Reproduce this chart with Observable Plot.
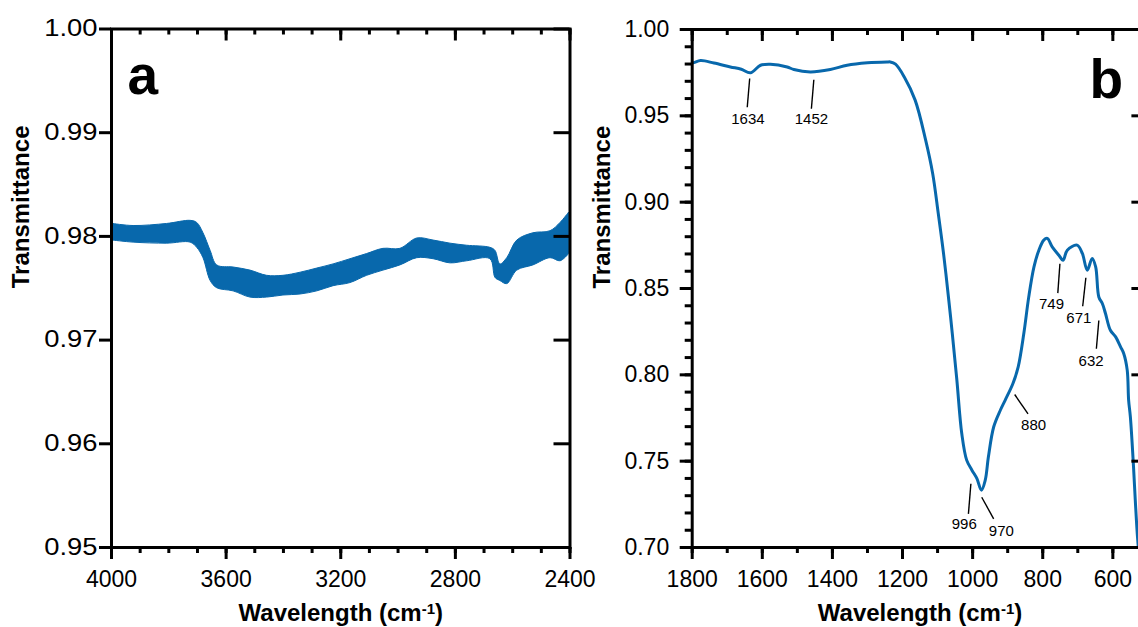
<!DOCTYPE html>
<html><head><meta charset="utf-8">
<script src="https://cdn.jsdelivr.net/npm/d3@7"></script>
<script src="https://cdn.jsdelivr.net/npm/@observablehq/plot@0.6"></script>
<style>
html,body{margin:0;padding:0;background:#fff;overflow:hidden}
#wrap{position:relative;width:1138px;height:627px;overflow:hidden;background:#fff}
#pa{position:absolute;left:0;top:0;width:580px;height:627px;z-index:2}
#pb{position:absolute;left:580px;top:0;width:558px;height:627px;overflow:hidden;z-index:1}
#wrap svg{overflow:visible;max-width:none !important;}
</style></head><body><div id="wrap"><div id="pa"></div><div id="pb"></div></div>
<script>
// ---------- Panel a data (noisy band: lower / upper envelope) ----------
const waveA = [3995, 3923, 3806, 3724, 3701, 3679, 3654, 3631, 3574, 3515, 3457, 3400, 3340, 3282, 3225, 3166, 3108, 3051, 2992, 2933, 2876, 2817, 2759, 2678, 2660, 2643, 2619, 2584, 2528, 2468, 2433, 2403];
const hiA = [0.9812, 0.9810, 0.9812, 0.9815, 0.9813, 0.9803, 0.9786, 0.9772, 0.9770, 0.9767, 0.9762, 0.9762, 0.9765, 0.9769, 0.9773, 0.9778, 0.9783, 0.9788, 0.9788, 0.9798, 0.9796, 0.9793, 0.9791, 0.9789, 0.9786, 0.9773, 0.9779, 0.9796, 0.9803, 0.9805, 0.9813, 0.9823];
const loA = [0.9796, 0.9794, 0.9793, 0.9794, 0.9789, 0.9779, 0.9757, 0.9750, 0.9747, 0.9741, 0.9741, 0.9743, 0.9744, 0.9747, 0.9752, 0.9755, 0.9762, 0.9767, 0.9772, 0.9779, 0.9778, 0.9774, 0.9776, 0.9778, 0.9760, 0.9757, 0.9754, 0.9767, 0.9772, 0.9779, 0.9776, 0.9783];

// ---------- Panel b data ----------
const waveB = [1800, 1795, 1776, 1738, 1691, 1660, 1634, 1605, 1577, 1529, 1510, 1463, 1406, 1358, 1300, 1244, 1235, 1220, 1195, 1164, 1134, 1114, 1098, 1083, 1068, 1058, 1045, 1031, 1017, 1002, 988, 975, 964, 955, 940, 921, 907, 885, 870, 854, 840, 825, 811, 797, 787, 773, 754, 742, 730, 702, 687, 673, 659, 649, 640, 630, 621, 607, 592, 578, 569, 559, 555, 550, 541, 536, 529, 520];
const transB = [0.9807, 0.9808, 0.9820, 0.9806, 0.9783, 0.9770, 0.9749, 0.9793, 0.9799, 0.9783, 0.9768, 0.9754, 0.9768, 0.9793, 0.9807, 0.9812, 0.9812, 0.9799, 0.9725, 0.9591, 0.9359, 0.9166, 0.8934, 0.8703, 0.8432, 0.8239, 0.7970, 0.7660, 0.7506, 0.7448, 0.7400, 0.7332, 0.7390, 0.7525, 0.7698, 0.7795, 0.7854, 0.7950, 0.8046, 0.8239, 0.8450, 0.8625, 0.8722, 0.8780, 0.8790, 0.8741, 0.8693, 0.8664, 0.8722, 0.8751, 0.8703, 0.8606, 0.8674, 0.8625, 0.8451, 0.8413, 0.8355, 0.8258, 0.8220, 0.8162, 0.8124, 0.8027, 0.7854, 0.7756, 0.7467, 0.7274, 0.7042, 0.6850];

// peak annotations (data units): label, leader start, leader end, label position
const peakLabels = ["1634", "1452", "996", "970", "880", "749", "671", "632"];
const leadTopW = [1636, 1453, 1005, 974, 880, 751, 677, 640];
const leadTopT = [0.9716, 0.9709, 0.7369, 0.7291, 0.7886, 0.8643, 0.8562, 0.8315];
const leadEndW = [1643, 1460, 1012, 940, 842, 757, 686, 647];
const leadEndT = [0.9550, 0.9541, 0.7195, 0.7166, 0.7774, 0.8473, 0.8397, 0.8151];
const labelW = [1641, 1460, 1024, 918, 826, 775, 697, 662];
const labelT = [0.9483, 0.9480, 0.7137, 0.7093, 0.7707, 0.8409, 0.8330, 0.8079];

// ---------- ticks ----------
const majorXA = [4000, 3600, 3200, 2800, 2400];
const minorXA = [4000, 3900, 3800, 3700, 3600, 3500, 3400, 3300, 3200, 3100, 3000, 2900, 2800, 2700, 2600, 2500, 2400];
const majorYA = [0.95, 0.96, 0.97, 0.98, 0.99, 1.00];
const majorXB = [1800, 1600, 1400, 1200, 1000, 800, 600];
const minorXB = [1800, 1700, 1600, 1500, 1400, 1300, 1200, 1100, 1000, 900, 800, 700, 600, 500];
const majorYB = [0.70, 0.75, 0.80, 0.85, 0.90, 0.95, 1.00];
const minorYB = [0.70,0.71,0.72,0.73,0.74,0.75,0.76,0.77,0.78,0.79,0.80,0.81,0.82,0.83,0.84,0.85,0.86,0.87,0.88,0.89,0.90,0.91,0.92,0.93,0.94,0.95,0.96,0.97,0.98,0.99,1.00];

const xTitle = "Wavelength (cm-1)";
const yTitle = "Transmittance";

const BLUE = "#0868ac";
const FONT = "'Liberation Sans', Arial, Helvetica, sans-serif";

const bandA = waveA.map((w, i) => ({w, lo: loA[i], hi: hiA[i]}));
const specB = waveB.map((w, i) => ({w, t: transB[i]}));
const peaks = peakLabels.map((label, i) => ({label, x1: leadTopW[i], y1: leadTopT[i], x2: leadEndW[i], y2: leadEndT[i], tx: labelW[i], ty: labelT[i]}));

const fmtInt = d => String(d);
const fmt2 = d3.format(".2f");

function frameMarks(o) {
  const plotW = o.width - o.marginLeft - o.marginRight;
  const plotH = o.height - o.marginTop - o.marginBottom;
  const marks = [
    Plot.frame({stroke: "black", strokeWidth: 3}),
    // bottom ticks (outward)
    Plot.axisX({ticks: o.minorX, anchor: "bottom", tickSize: 6, tickFormat: () => "", strokeWidth: 3, label: null}),
    Plot.axisX({ticks: o.majorX, anchor: "bottom", tickSize: 12, tickPadding: 11, tickFormat: fmtInt, strokeWidth: 3, label: null}),
    // top ticks (inward)
    Plot.ruleX(o.minorX, {x: d => d, insetBottom: plotH - 6, stroke: "black", strokeWidth: 3}),
    Plot.ruleX(o.majorX, {x: d => d, insetBottom: plotH - 12, stroke: "black", strokeWidth: 3})
  ];
  if (o.minorY) marks.push(Plot.axisY({ticks: o.minorY, anchor: "left", tickSize: 7, tickFormat: () => "", strokeWidth: 3, label: null}));
  marks.push(
    Plot.axisY({ticks: o.majorY, anchor: "left", tickSize: 12, tickPadding: o.yPad, tickFormat: fmt2, strokeWidth: 3, label: null}),
    // right ticks (inward)
    Plot.ruleY(o.majorY, {y: d => d, insetLeft: plotW - 16, stroke: "black", strokeWidth: 3}),
    // titles
    Plot.text([yTitle], {text: d => d, frameAnchor: "left", rotate: -90, dx: o.yTitleDx, fontSize: 24, fontWeight: "bold"}),
    Plot.text([xTitle], {text: d => d, frameAnchor: "bottom", dy: 73.5, lineAnchor: "bottom", fontSize: 24, fontWeight: "bold"}),
    Plot.text([o.letter], {text: d => d, frameAnchor: "top-left", dx: o.letterDx, dy: o.letterDy, lineAnchor: "bottom", textAnchor: "start", fontSize: 55, fontWeight: "bold"})
  );
  return marks;
}

const optA = {width: 580, height: 627, marginLeft: 111, marginRight: 10.5, marginTop: 28.5, marginBottom: 80,
  majorX: majorXA, minorX: minorXA, majorY: majorYA, minorY: null, yPad: 2, yTitleDx: -90, letter: "a", letterDx: 16, letterDy: 64.5};
const chartA = Plot.plot({
  width: optA.width, height: optA.height,
  marginLeft: optA.marginLeft, marginRight: optA.marginRight, marginTop: optA.marginTop, marginBottom: optA.marginBottom,
  x: {domain: [4000, 2400]}, y: {domain: [0.95, 1.00]},
  style: {fontFamily: FONT, fontSize: "23px", background: "transparent", color: "black", overflow: "visible", maxWidth: "none"},
  marks: [
    Plot.areaY(bandA, {x: "w", y1: "lo", y2: "hi", fill: BLUE, stroke: BLUE, strokeWidth: 1, curve: "catmull-rom"}),
    ...frameMarks(optA)
  ]
});

const optB = {width: 600, height: 627, marginLeft: 111.7, marginRight: 32.6, marginTop: 29, marginBottom: 80,
  majorX: majorXB, minorX: minorXB, majorY: majorYB, minorY: minorYB, yPad: 11, yTitleDx: -89.7, letter: "b", letterDx: 397.3, letterDy: 68};
const chartB = Plot.plot({
  width: optB.width, height: optB.height,
  marginLeft: optB.marginLeft, marginRight: optB.marginRight, marginTop: optB.marginTop, marginBottom: optB.marginBottom,
  x: {domain: [1800, 500]}, y: {domain: [0.70, 1.00]},
  style: {fontFamily: FONT, fontSize: "23px", background: "transparent", color: "black", overflow: "visible", maxWidth: "none"},
  marks: [
    Plot.line(specB, {x: "w", y: "t", stroke: BLUE, strokeWidth: 3, curve: "catmull-rom", clip: true}),
    Plot.link(peaks, {x1: "x1", y1: "y1", x2: "x2", y2: "y2", stroke: "black", strokeWidth: 1.4}),
    Plot.text(peaks, {x: "tx", y: "ty", text: "label", fontSize: 15, lineAnchor: "middle"}),
    ...frameMarks(optB)
  ]
});

function finish(svg) {
  const s = d3.select(svg);
  // drop the empty labels of the minor-tick axes
  s.selectAll("text").filter(function() { return this.textContent === ""; }).remove();
  s.selectAll("text").each(function() {
    const t = d3.select(this);
    if (t.selectAll("tspan").size() === 0 && t.text() === xTitle) {
      t.text(null);
      t.append("tspan").text("Wavelength (cm");
      t.append("tspan").attr("dy", -7).attr("font-size", "15px").text("-1");
      t.append("tspan").attr("dy", 7).text(")");
    }
  });
}
finish(chartA);
finish(chartB);
// panel a's y tick labels are drawn horizontally stretched in the reference
d3.select(chartA).selectAll('g[aria-label="y-axis tick label"] text').each(function() {
  const tr = this.getAttribute("transform") || "";
  this.setAttribute("transform", tr + " scale(1.19,1)");
});
document.getElementById("pa").appendChild(chartA);
document.getElementById("pb").appendChild(chartB);
</script></body></html>
